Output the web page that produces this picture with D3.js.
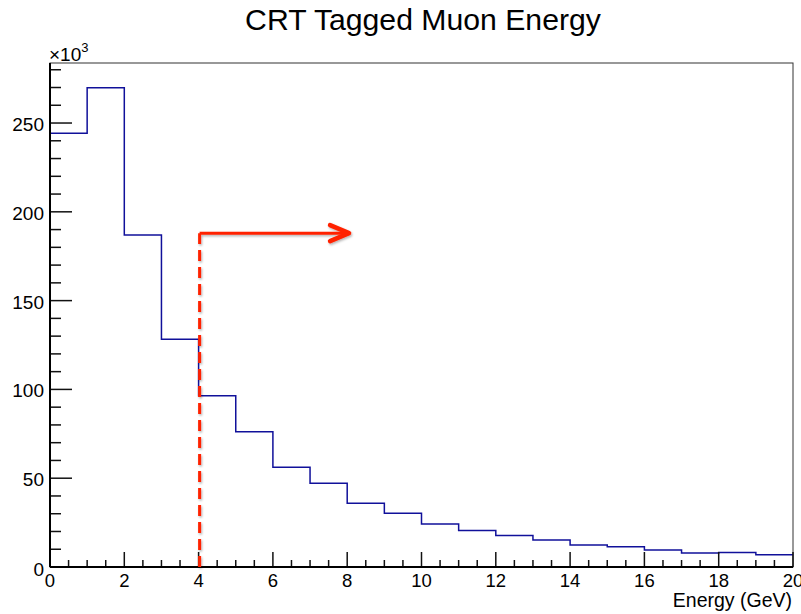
<!DOCTYPE html>
<html><head><meta charset="utf-8">
<script src="https://cdn.jsdelivr.net/npm/d3@7"></script>
<style>body{margin:0;background:#fff}svg{display:block}text{font-family:"Liberation Sans",Arial,sans-serif}</style>
</head><body>
<svg id="c" width="801" height="614"></svg>
<script>
const binEdges = [0,1,2,3,4,5,6,7,8,9,10,11,12,13,14,15,16,17,18,19,20];
const counts = [244.2,269.9,186.9,128.2,96.5,76.2,56.1,47.1,35.9,30.2,24.2,20.5,17.8,15.2,12.4,11.4,9.6,7.9,8.1,6.9];
const xTicks = [0,2,4,6,8,10,12,14,16,18,20];
const yTicks = [0,50,100,150,200,250];
const cutValue = 4, arrowEnd = 8.05, arrowLevel = 188;

const svg = d3.select("#c");
const L=50,R=793,T=63,B=567;
const x = d3.scaleLinear().domain([0,20]).range([L,R]);
const y = d3.scaleLinear().domain([0,283.8]).range([B,T]);

svg.append("text").attr("x",423).attr("y",30).attr("text-anchor","middle")
  .attr("font-size",30.2).text("CRT Tagged Muon Energy");

// frame
svg.append("rect").attr("x",L).attr("y",T).attr("width",R-L).attr("height",B-T)
  .attr("fill","none").attr("stroke","#333").attr("stroke-width",1);

// histogram step
const pts=[];
counts.forEach((c,i)=>{pts.push([x(binEdges[i]),y(c)]);pts.push([x(binEdges[i+1]),y(c)]);});
svg.append("path").attr("d",d3.line()(pts)).attr("fill","none")
  .attr("stroke","#10109a").attr("stroke-width",1.5);

// axes
const ga = svg.append("g");
d3.range(0,281,10).forEach(v=>{
  const major = v%50===0;
  ga.append("line").attr("x1",L).attr("x2",L+(major?22:11)).attr("y1",y(v)).attr("y2",y(v))
    .attr("stroke","#111").attr("stroke-width",1.5);
});
yTicks.forEach(v=>{
  ga.append("text").attr("x",44).attr("y",y(v)+(v===0?9:8)).attr("text-anchor","end").attr("font-size",19).text(v);
});
d3.range(0,20.01,0.5).forEach(v=>{
  const major = Math.abs(v%2)<1e-9;
  ga.append("line").attr("x1",x(v)).attr("x2",x(v)).attr("y1",B).attr("y2",B-(major?15:7))
    .attr("stroke","#111").attr("stroke-width",1.5);
});
xTicks.forEach(v=>{
  ga.append("text").attr("x",x(v)).attr("y",587).attr("text-anchor","middle").attr("font-size",18.5).text(v);
});
ga.append("line").attr("x1",L).attr("x2",L).attr("y1",T).attr("y2",B).attr("stroke","#000").attr("stroke-width",2);
ga.append("line").attr("x1",L).attr("x2",R).attr("y1",B).attr("y2",B).attr("stroke","#000").attr("stroke-width",2);

// x10^3
const e = svg.append("text").attr("x",49).attr("y",61).attr("font-size",19);
e.append("tspan").text("×10");
e.append("tspan").attr("dy",-9).attr("font-size",13).text("3");

svg.append("text").attr("x",792).attr("y",607).attr("text-anchor","end").attr("font-size",19.5).text("Energy (GeV)");

// red cut line + arrow
const defs = svg.append("defs");
const f = defs.append("filter").attr("id","sh").attr("x","-20%").attr("y","-20%").attr("width","140%").attr("height","140%");
f.append("feDropShadow").attr("dx",1).attr("dy",1.5).attr("stdDeviation",1.2).attr("flood-color","#000").attr("flood-opacity",0.3);
const red = "#ff2200";
const g = svg.append("g").attr("filter","url(#sh)");
g.append("line").attr("x1",x(cutValue)+1).attr("x2",x(cutValue)+1).attr("y1",B).attr("y2",y(arrowLevel))
  .attr("stroke",red).attr("stroke-width",3).attr("stroke-dasharray","11,6");
g.append("line").attr("x1",x(cutValue)+1).attr("x2",x(arrowEnd)).attr("y1",y(arrowLevel)).attr("y2",y(arrowLevel))
  .attr("stroke",red).attr("stroke-width",3);
g.append("path").attr("d",`M${x(arrowEnd)-19},${y(arrowLevel)-8} L${x(arrowEnd)},${y(arrowLevel)} L${x(arrowEnd)-19},${y(arrowLevel)+8}`)
  .attr("fill","none").attr("stroke",red).attr("stroke-width",4.5).attr("stroke-linecap","round").attr("stroke-linejoin","round");
</script>
</body></html>
